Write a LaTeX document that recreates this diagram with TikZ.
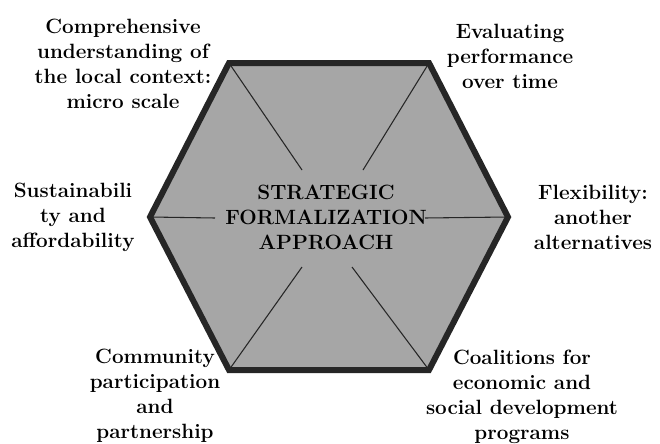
\documentclass[tikz,border=0pt]{standalone}
\usepackage{fontspec}
\usetikzlibrary{positioning}
\definecolor{hexgray}{RGB}{166,166,166}
\tikzset{hexside/.style={draw=black!85, line width=4.5pt, fill=hexgray, line join=miter},
  spoke/.style={black!85, line width=0.8pt},
  lbl/.style={align=center, inner sep=0pt, font=\fontsize{15.5}{18.8}\selectfont\bfseries},
  corelbl/.style={lbl, font=\fontsize{15.5}{18.8}\selectfont\bfseries\addfontfeatures{LetterSpace=12}}}

\begin{document}
\begin{tikzpicture}[x=0.75pt, y=-0.75pt]
  \useasboundingbox (0,0) rectangle (660,443);
  \coordinate (tl) at (229,63);  \coordinate (tr) at (429,63);
  \coordinate (l)  at (150,217); \coordinate (r)  at (508,217);
  \coordinate (bl) at (229,370); \coordinate (br) at (429,370);
  \draw[hexside] (tl) -- (tr) -- (r) -- (br) -- (bl) -- (l) -- cycle;
  \coordinate (etl) at (302,170); \coordinate (etr) at (363,170);
  \coordinate (el)  at (215,218); \coordinate (er)  at (425,218);
  \coordinate (ebl) at (302,267); \coordinate (ebr) at (352,267);
  \draw[spoke] (tl) -- (etl);
  \draw[spoke] (tr) -- (etr);
  \draw[spoke] (l) -- (el);
  \draw[spoke] (r) -- (er);
  \draw[spoke] (bl) -- (ebl);
  \draw[spoke] (br) -- (ebr);
  \node[corelbl] (core) at (326,217) {STRATEGIC\\FORMALIZATION\\APPROACH};
  \node[lbl] (context) at (123,64) {Comprehensive\\understanding of\\the local context:\\micro scale};
  \node[lbl] (evaluate) at (510,56) {Evaluating\\performance\\over time};
  \node[lbl] (sustain) at (73,217) {Sustainabili\\ty and\\affordability};
  \node[lbl] (flex) at (593,217) {Flexibility:\\another\\alternatives};
  \node[lbl] (community) at (155,396) {Community\\participation\\and\\partnership};
  \node[lbl] (coalition) at (522,397) {Coalitions for\\economic and\\social development\\programs};
\end{tikzpicture}
\end{document}
